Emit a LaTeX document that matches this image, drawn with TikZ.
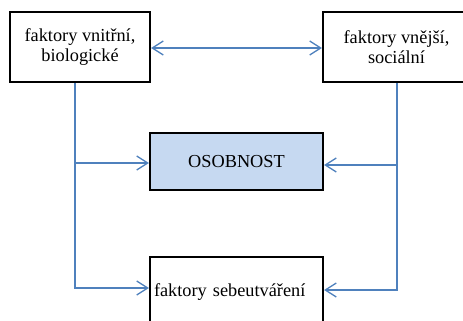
\documentclass[tikz,border=0pt]{standalone}
\usepackage{fontspec}
\setmainfont{Liberation Serif}
\newfontfamily\tnr{Liberation Serif}
\usetikzlibrary{arrows.meta}
\definecolor{lineblue}{HTML}{4F81BD}
\definecolor{boxblue}{HTML}{C6D9F1}
\begin{document}
\begin{tikzpicture}[x=1pt,y=-1pt,
  box/.style={draw=black,line width=2.2pt,inner sep=0pt,align=center,
    font=\tnr\fontsize{18.3}{20}\selectfont},
  conn/.style={draw=lineblue,line width=1.5pt},
  arr/.style={-{Straight Barb[length=11pt,width=14pt,line width=1.3pt]}}]
\useasboundingbox (0,0) rectangle (463,321);
\clip (0,0) rectangle (463,321);
\fill[white] (0,0) rectangle (463,321);
\node[box,minimum width=140pt,minimum height=70pt] (lb) at (80,47) {faktory vnitřní,\\biologické};
\node[box,minimum width=147pt,minimum height=70pt] (rb) at (396.5,47) {faktory vnější,\\sociální};
\node[box,fill=boxblue,minimum width=173pt,minimum height=57pt] (os) at (236.5,161.5) {OSOBNOST};
\node[box,minimum width=173pt,minimum height=70pt,text width=165pt,align=left,inner sep=4pt] (sb) at (236.5,292) {faktory sebeutváření};
\coordinate (lx) at (75,0);
\coordinate (rx) at (397,0);
\draw[conn,line width=2pt,{Straight Barb[length=11pt,width=14pt,line width=1.3pt]}-{Straight Barb[length=11pt,width=14pt,line width=1.3pt]}] ([yshift=-1pt]lb.east) -- ([yshift=-1pt]rb.west);
\draw[conn,arr] (lb.south -| lx) |- ([yshift=4pt]sb.west);
\draw[conn,arr] ([yshift=-1.5pt]lx |- os.west) -- ([yshift=-1.5pt]os.west);
\draw[conn,arr] (rb.south -| rx) |- ([yshift=2pt]sb.east);
\draw[conn,arr] ([yshift=-3.5pt]rx |- os.east) -- ([yshift=-3.5pt]os.east);
\end{tikzpicture}
\end{document}
